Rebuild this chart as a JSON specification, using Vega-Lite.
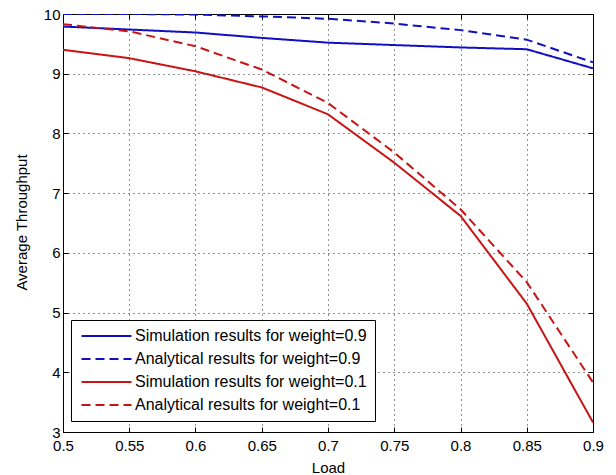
{
  "$schema": "https://vega.github.io/schema/vega-lite/v6.json",
  "width": 530,
  "height": 418,
  "autosize": "none",
  "padding": {"left": 63, "top": 14, "right": 23, "bottom": 43},
  "background": "white",
  "config": {
    "font": "Liberation Sans",
    "view": {"stroke": "black", "strokeWidth": 1},
    "axis": {
      "domainColor": "black",
      "tickColor": "black",
      "labelColor": "black",
      "titleColor": "black",
      "labelFontSize": 15,
      "labelFont": "Liberation Sans",
      "titleFont": "Liberation Sans",
      "titleFontSize": 15,
      "titleFontWeight": "normal",
      "tickSize": -5,
      "gridColor": "#222222",
      "gridOpacity": 1,
      "gridDash": [1, 4],
      "gridWidth": 1
    },
    "legend": {
      "title": null,
      "orient": "none",
      "legendX": 8,
      "legendY": 306,
      "strokeColor": "black",
      "fillColor": "white",
      "padding": 8,
      "symbolType": "M-1.1,0H8.9",
      "symbolSize": 100,
      "symbolStrokeWidth": 2,
      "labelFont": "Liberation Sans",
      "labelFontSize": 16,
      "labelColor": "black",
      "labelOffset": 40,
      "rowPadding": 7,
      "labelLimit": 400
    }
  },
  "data": {
    "values": [
      {"load": 0.5, "tp": 9.79, "series": "Simulation results for weight=0.9"},
      {"load": 0.55, "tp": 9.74, "series": "Simulation results for weight=0.9"},
      {"load": 0.6, "tp": 9.69, "series": "Simulation results for weight=0.9"},
      {"load": 0.65, "tp": 9.6, "series": "Simulation results for weight=0.9"},
      {"load": 0.7, "tp": 9.52, "series": "Simulation results for weight=0.9"},
      {"load": 0.75, "tp": 9.48, "series": "Simulation results for weight=0.9"},
      {"load": 0.8, "tp": 9.44, "series": "Simulation results for weight=0.9"},
      {"load": 0.85, "tp": 9.41, "series": "Simulation results for weight=0.9"},
      {"load": 0.9, "tp": 9.09, "series": "Simulation results for weight=0.9"},
      {"load": 0.5, "tp": 10.0, "series": "Analytical results for weight=0.9"},
      {"load": 0.55, "tp": 10.0, "series": "Analytical results for weight=0.9"},
      {"load": 0.6, "tp": 9.99, "series": "Analytical results for weight=0.9"},
      {"load": 0.65, "tp": 9.96, "series": "Analytical results for weight=0.9"},
      {"load": 0.7, "tp": 9.92, "series": "Analytical results for weight=0.9"},
      {"load": 0.75, "tp": 9.84, "series": "Analytical results for weight=0.9"},
      {"load": 0.8, "tp": 9.73, "series": "Analytical results for weight=0.9"},
      {"load": 0.85, "tp": 9.57, "series": "Analytical results for weight=0.9"},
      {"load": 0.9, "tp": 9.19, "series": "Analytical results for weight=0.9"},
      {"load": 0.5, "tp": 9.4, "series": "Simulation results for weight=0.1"},
      {"load": 0.55, "tp": 9.26, "series": "Simulation results for weight=0.1"},
      {"load": 0.6, "tp": 9.04, "series": "Simulation results for weight=0.1"},
      {"load": 0.65, "tp": 8.77, "series": "Simulation results for weight=0.1"},
      {"load": 0.7, "tp": 8.32, "series": "Simulation results for weight=0.1"},
      {"load": 0.75, "tp": 7.51, "series": "Simulation results for weight=0.1"},
      {"load": 0.8, "tp": 6.62, "series": "Simulation results for weight=0.1"},
      {"load": 0.85, "tp": 5.15, "series": "Simulation results for weight=0.1"},
      {"load": 0.9, "tp": 3.16, "series": "Simulation results for weight=0.1"},
      {"load": 0.5, "tp": 9.83, "series": "Analytical results for weight=0.1"},
      {"load": 0.55, "tp": 9.71, "series": "Analytical results for weight=0.1"},
      {"load": 0.6, "tp": 9.46, "series": "Analytical results for weight=0.1"},
      {"load": 0.65, "tp": 9.07, "series": "Analytical results for weight=0.1"},
      {"load": 0.7, "tp": 8.51, "series": "Analytical results for weight=0.1"},
      {"load": 0.75, "tp": 7.68, "series": "Analytical results for weight=0.1"},
      {"load": 0.8, "tp": 6.73, "series": "Analytical results for weight=0.1"},
      {"load": 0.85, "tp": 5.51, "series": "Analytical results for weight=0.1"},
      {"load": 0.9, "tp": 3.83, "series": "Analytical results for weight=0.1"}
    ]
  },
  "layer": [
    {
      "mark": {"type": "line", "strokeWidth": 2, "clip": true},
      "encoding": {
        "x": {
          "field": "load", "type": "quantitative", "title": "Load",
          "scale": {"domain": [0.5, 0.9], "nice": false, "zero": false},
          "axis": {"values": [0.5, 0.55, 0.6, 0.65, 0.7, 0.75, 0.8, 0.85, 0.9], "format": ".2~f", "labelPadding": 11, "labelFlush": false, "titleX": 265, "titleY": 40, "titleBaseline": "alphabetic"}
        },
        "y": {
          "field": "tp", "type": "quantitative", "title": "Average Throughput",
          "scale": {"domain": [3, 10], "nice": false, "zero": false},
          "axis": {"values": [3, 4, 5, 6, 7, 8, 9, 10], "labelPadding": 8, "labelFlush": false, "titleX": -37, "titleY": 208, "titleBaseline": "alphabetic"}
        },
        "color": {
          "field": "series", "type": "nominal",
          "scale": {
            "domain": ["Simulation results for weight=0.9", "Analytical results for weight=0.9", "Simulation results for weight=0.1", "Analytical results for weight=0.1"],
            "range": ["#1010c0", "#1010c0", "#c81414", "#c81414"]
          }
        },
        "strokeDash": {
          "field": "series", "type": "nominal",
          "scale": {
            "domain": ["Simulation results for weight=0.9", "Analytical results for weight=0.9", "Simulation results for weight=0.1", "Analytical results for weight=0.1"],
            "range": [[1, 0], [9, 5], [1, 0], [9, 5]]
          }
        }
      }
    },
    {
      "mark": {"type": "line", "opacity": 0},
      "encoding": {
        "x": {
          "field": "load", "type": "quantitative",
          "axis": {"orient": "top", "values": [0.5, 0.55, 0.6, 0.65, 0.7, 0.75, 0.8, 0.85, 0.9], "labels": false, "grid": false, "title": null}
        },
        "y": {
          "field": "tp", "type": "quantitative",
          "axis": {"orient": "right", "values": [3, 4, 5, 6, 7, 8, 9, 10], "labels": false, "grid": false, "title": null}
        },
        "detail": {"field": "series"}
      }
    }
  ],
  "resolve": {"axis": {"x": "independent", "y": "independent"}}
}
